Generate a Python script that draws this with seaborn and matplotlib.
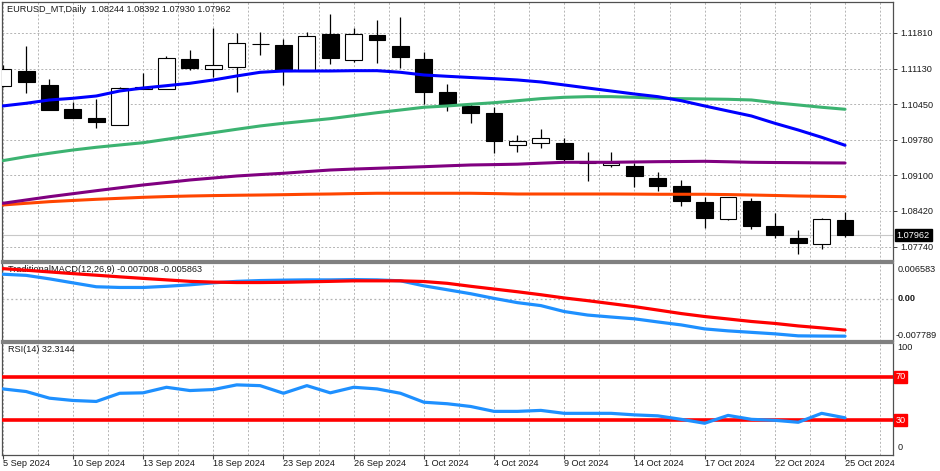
import numpy as np
import pandas as pd
import matplotlib
matplotlib.use("Agg")
import matplotlib.pyplot as plt
import seaborn as sns

# ---------------- data ----------------
dates = ["5 Sep 2024", "6 Sep 2024", "9 Sep 2024", "10 Sep 2024", "11 Sep 2024", "12 Sep 2024",
         "13 Sep 2024", "16 Sep 2024", "17 Sep 2024", "18 Sep 2024", "19 Sep 2024", "20 Sep 2024",
         "23 Sep 2024", "24 Sep 2024", "25 Sep 2024", "26 Sep 2024", "27 Sep 2024", "30 Sep 2024",
         "1 Oct 2024", "2 Oct 2024", "3 Oct 2024", "4 Oct 2024", "7 Oct 2024", "8 Oct 2024",
         "9 Oct 2024", "10 Oct 2024", "11 Oct 2024", "14 Oct 2024", "15 Oct 2024", "16 Oct 2024",
         "17 Oct 2024", "18 Oct 2024", "21 Oct 2024", "22 Oct 2024", "23 Oct 2024", "24 Oct 2024",
         "25 Oct 2024"]

open_ = [1.10806, 1.11086, 1.10820, 1.10357, 1.10185, 1.10063, 1.10738, 1.10738, 1.11309, 1.11124,
         1.11168, 1.11595, 1.11581, 1.11092, 1.11785, 1.11296, 1.11772, 1.11562, 1.11309, 1.10686,
         1.10414, 1.10292, 1.09682, 1.09709, 1.09709, 1.09340, 1.09290, 1.09277, 1.09042, 1.08890,
         1.08597, 1.08267, 1.08616, 1.08139, 1.07911, 1.07791, 1.08244]
high = [1.11200, 1.11568, 1.10928, 1.10501, 1.10559, 1.10772, 1.11042, 1.11378, 1.11486, 1.11900,
        1.11804, 1.11835, 1.11690, 1.11823, 1.12166, 1.11900, 1.12058, 1.12109, 1.11454, 1.10839,
        1.10458, 1.10395, 1.09867, 1.09976, 1.09804, 1.09538, 1.09538, 1.09328, 1.09168, 1.09010,
        1.08680, 1.08692, 1.08661, 1.08376, 1.08058, 1.08292, 1.08392]
low = [1.10781, 1.10661, 1.10334, 1.10191, 1.10006, 1.10058, 1.10734, 1.10734, 1.11105, 1.10966,
       1.10692, 1.11391, 1.10820, 1.11086, 1.11220, 1.11263, 1.11244, 1.11138, 1.10452, 1.10330,
       1.10090, 1.09519, 1.09538, 1.09614, 1.09347, 1.08997, 1.09263, 1.08871, 1.08806, 1.08520,
       1.08090, 1.08248, 1.08082, 1.07905, 1.07600, 1.07696, 1.07930]
close = [1.11119, 1.10877, 1.10343, 1.10197, 1.10115, 1.10757, 1.10776, 1.11340, 1.11138, 1.11195,
         1.11614, 1.11600, 1.11092, 1.11759, 1.11328, 1.11785, 1.11677, 1.11359, 1.10680, 1.10452,
         1.10292, 1.09759, 1.09747, 1.09810, 1.09404, 1.09334, 1.09328, 1.09086, 1.08901, 1.08610,
         1.08280, 1.08680, 1.08134, 1.07962, 1.07804, 1.08261, 1.07962]

ma_blue = [1.10420, 1.10471, 1.10534, 1.10566, 1.10610, 1.10705, 1.10762, 1.10806, 1.10852, 1.10915,
           1.10991, 1.11061, 1.11086, 1.11086, 1.11086, 1.11092, 1.11092, 1.11061, 1.11010, 1.10985,
           1.10962, 1.10940, 1.10915, 1.10877, 1.10820, 1.10762, 1.10705, 1.10648, 1.10597, 1.10520,
           1.10420, 1.10324, 1.10229, 1.10090, 1.09962, 1.09823, 1.09671]
ma_green = [1.09378, 1.09454, 1.09519, 1.09581, 1.09633, 1.09677, 1.09720, 1.09785, 1.09848, 1.09911,
            1.09976, 1.10039, 1.10090, 1.10134, 1.10178, 1.10235, 1.10292, 1.10343, 1.10395, 1.10420,
            1.10452, 1.10482, 1.10520, 1.10559, 1.10585, 1.10597, 1.10597, 1.10585, 1.10566, 1.10559,
            1.10553, 1.10547, 1.10534, 1.10482, 1.10439, 1.10395, 1.10357]
ma_purple = [1.08566, 1.08629, 1.08692, 1.08749, 1.08806, 1.08861, 1.08915, 1.08962, 1.09010, 1.09048,
             1.09086, 1.09113, 1.09138, 1.09170, 1.09200, 1.09218, 1.09233, 1.09248, 1.09263, 1.09280,
             1.09296, 1.09303, 1.09311, 1.09330, 1.09347, 1.09347, 1.09347, 1.09353, 1.09359, 1.09362,
             1.09366, 1.09357, 1.09347, 1.09343, 1.09340, 1.09336, 1.09334]
ma_orange = [1.08534, 1.08566, 1.08597, 1.08620, 1.08642, 1.08661, 1.08680, 1.08694, 1.08705, 1.08713,
             1.08719, 1.08724, 1.08730, 1.08738, 1.08743, 1.08751, 1.08757, 1.08757, 1.08757, 1.08757,
             1.08757, 1.08751, 1.08743, 1.08743, 1.08743, 1.08743, 1.08743, 1.08741, 1.08738, 1.08738,
             1.08738, 1.08732, 1.08724, 1.08715, 1.08705, 1.08699, 1.08692]

macd_line = [0.00467, 0.00445, 0.00379, 0.00304, 0.00230, 0.00217, 0.00217, 0.00239, 0.00267, 0.00304,
             0.00332, 0.00347, 0.00355, 0.00360, 0.00360, 0.00366, 0.00360, 0.00342, 0.00248, 0.00174,
             0.00099, 0.00011, -0.00069, -0.00125, -0.00237, -0.00303, -0.00340, -0.00374, -0.00433,
             -0.00489, -0.00564, -0.00601, -0.00629, -0.00657, -0.00695, -0.00699, -0.007008]
signal_line = [0.00572, 0.00542, 0.00510, 0.00478, 0.00448, 0.00417, 0.00388, 0.00360, 0.00332, 0.00318,
               0.00310, 0.00310, 0.00314, 0.00323, 0.00332, 0.00342, 0.00342, 0.00342, 0.00329, 0.00295,
               0.00239, 0.00187, 0.00136, 0.00080, 0.00019, -0.00032, -0.00088, -0.00144, -0.00209,
               -0.00275, -0.00331, -0.00377, -0.00424, -0.00461, -0.00508, -0.00545, -0.005863]

rsi = [58.8, 56.4, 50.3, 48.2, 47.3, 54.8, 55.2, 60.3, 57.3, 58.2, 62.5, 61.8, 54.8, 61.8, 55.2, 60.3,
       58.8, 54.8, 46.6, 45.2, 42.7, 38.2, 38.2, 39.1, 36.4, 36.4, 36.4, 35.0, 34.1, 30.9, 27.3, 34.5,
       30.9, 30.0, 28.2, 36.4, 32.3144]

price_ticks = [1.11810, 1.11130, 1.10450, 1.09780, 1.09100, 1.08420, 1.07740]
price_labels = ["1.11810", "1.11130", "1.10450", "1.09780", "1.09100", "1.08420", "1.07740"]
rsi_levels = [70, 30]
title_text = "EURUSD_MT,Daily  1.08244 1.08392 1.07930 1.07962"
macd_text = "TraditionalMACD(12,26,9) -0.007008 -0.005863"
rsi_text = "RSI(14) 32.3144"
macd_max_label, macd_min_label = "0.006583", "-0.007789"

# ---------------- style ----------------
sns.set_style("white")
plt.rcParams['font.family'] = ['Liberation Sans', 'DejaVu Sans']
FS = 6.6
TXT = "#1a1a1a"
GRID = "#b4b4b4"

df = pd.DataFrame({
    "i": np.arange(len(dates)), "date": dates, "open": open_, "high": high, "low": low, "close": close,
    "ma_blue": ma_blue, "ma_green": ma_green, "ma_purple": ma_purple, "ma_orange": ma_orange,
    "macd": macd_line, "signal": signal_line, "rsi": rsi,
})
n = len(df)
x = df["i"].values

W, H = 940, 471
fig = plt.figure(figsize=(W / 100, H / 100), dpi=100)
L = 2 / W
R = 893 / W
ax1 = fig.add_axes([L, 1 - 261 / H, R - L, 259 / H])
ax2 = fig.add_axes([L, 1 - 341 / H, R - L, 78 / H])
ax3 = fig.add_axes([L, 1 - 455 / H, R - L, 112 / H])

xlim = (-0.03, 38.05)
major = np.arange(0, n, 3)
minor = np.arange(0, 38.5, 1.5)

for ax in (ax1, ax2, ax3):
    ax.set_xlim(*xlim)
    ax.set_xticks(major)
    ax.set_xticks(minor, minor=True)
    ax.grid(False)
    ax.xaxis.grid(True, which="both", color=GRID, linestyle=(0, (2, 2)), linewidth=0.7)
    ax.set_axisbelow(True)
    ax.tick_params(axis="x", which="minor", length=0)
    ax.yaxis.tick_right()
    for s in ax.spines.values():
        s.set_color("#505050")
        s.set_linewidth(0.9)

# ---------------- main panel ----------------
ax1.set_ylim(1.07467, 1.12400)
ax1.set_yticks(price_ticks)
ax1.set_yticklabels(price_labels)
ax1.yaxis.grid(True, color=GRID, linestyle=(0, (2, 2)), linewidth=0.7)
ax1.tick_params(axis="y", right=True, length=3, width=0.7, pad=2, labelsize=FS, labelcolor=TXT, colors="#404040")
ax1.tick_params(axis="x", bottom=False, labelbottom=False)

# bid line
ax1.axhline(close[-1], color="#c8c8c8", lw=0.8, zorder=1)

# candles
up = df["close"] >= df["open"]
body_bottom = np.minimum(df["open"], df["close"])
body_h = np.abs(df["close"] - df["open"])
ax1.vlines(x, df["low"], df["high"], color="black", lw=0.9, zorder=2)
ax1.bar(x, body_h, bottom=body_bottom, width=0.72,
        color=np.where(up, "white", "black"), edgecolor="black", linewidth=0.8, zorder=3)

for col, c in [("ma_orange", "#FF4500"), ("ma_purple", "#800080"), ("ma_green", "#3CB371"), ("ma_blue", "#0000FF")]:
    sns.lineplot(data=df, x="i", y=col, ax=ax1, color=c, lw=2.2, zorder=4)
ax1.set_xlabel(""); ax1.set_ylabel("")

ax1.text(5 / 891, 1 - 8 / 259, title_text, transform=ax1.transAxes, fontsize=FS,
         color=TXT, va="center", ha="left")
ax1.text(1.004, close[-1], "1.07962", transform=ax1.get_yaxis_transform(), fontsize=FS, color="white",
         va="center", ha="left", bbox=dict(boxstyle="square,pad=0.2", fc="black", ec="black"), zorder=10,
         clip_on=False)

# ---------------- MACD panel ----------------
ax2.set_ylim(-0.00792, 0.00678)
ax2.set_yticks([])
ax2.axhline(0, color=GRID, linestyle=(0, (1.5, 2)), lw=0.9, zorder=1)
ax2.tick_params(axis="x", bottom=False, labelbottom=False)
for s in ("top", "bottom"):
    ax2.spines[s].set_color("#808080")
    ax2.spines[s].set_linewidth(1.6)
ax1.spines["bottom"].set_color("#808080")
ax1.spines["bottom"].set_linewidth(1.6)
ax2.text(6 / 891, (341 - 270) / 78, macd_text, transform=ax2.transAxes, fontsize=FS, color=TXT,
         va="center", ha="left", zorder=2)
sns.lineplot(data=df, x="i", y="signal", ax=ax2, color="#FF0000", lw=2.3, zorder=5)
sns.lineplot(data=df, x="i", y="macd", ax=ax2, color="#1E90FF", lw=2.3, zorder=4)
ax2.set_xlabel(""); ax2.set_ylabel("")
ax2.text(1.005, (341 - 270) / 78, macd_max_label, transform=ax2.transAxes, fontsize=FS, color=TXT,
         va="center", ha="left")
ax2.text(1.005, 0, "0.00", transform=ax2.get_yaxis_transform(), fontsize=FS, color=TXT,
         va="center", ha="left", fontweight="bold")
ax2.text(1.003, (341 - 335) / 78, macd_min_label, transform=ax2.transAxes, fontsize=FS, color=TXT,
         va="center", ha="left")

# ---------------- RSI panel ----------------
ax3.set_ylim(-1.8, 100.9)
ax3.set_yticks([])
ax3.spines["top"].set_color("#808080")
ax3.spines["top"].set_linewidth(1.6)
for lv in rsi_levels:
    ax3.axhline(lv, color="#FF0000", lw=2.6, zorder=3)
    ax3.text(1.003, lv, str(lv), transform=ax3.get_yaxis_transform(), fontsize=FS, color="white",
             va="center", ha="left", bbox=dict(boxstyle="square,pad=0.15", fc="#FF0000", ec="#FF0000"),
             clip_on=False)
sns.lineplot(data=df, x="i", y="rsi", ax=ax3, color="#1E90FF", lw=2.3, zorder=4)
ax3.set_xlabel(""); ax3.set_ylabel("")
ax3.text(6 / 891, (455 - 350) / 112, rsi_text, transform=ax3.transAxes, fontsize=FS, color=TXT,
         va="center", ha="left")
ax3.text(1.005, (455 - 348) / 112, "100", transform=ax3.transAxes, fontsize=FS, color=TXT,
         va="center", ha="left")
ax3.text(1.005, (455 - 447) / 112, "0", transform=ax3.transAxes, fontsize=FS, color=TXT,
         va="center", ha="left")

ax3.set_xticks(major)
ax3.set_xticklabels([dates[i] for i in major], ha="left")
ax3.tick_params(axis="x", which="major", bottom=True, length=3, width=0.8, pad=0, labelsize=FS,
                labelcolor=TXT, colors="#404040")

fig.savefig("out.png", dpi=100, facecolor="white")
